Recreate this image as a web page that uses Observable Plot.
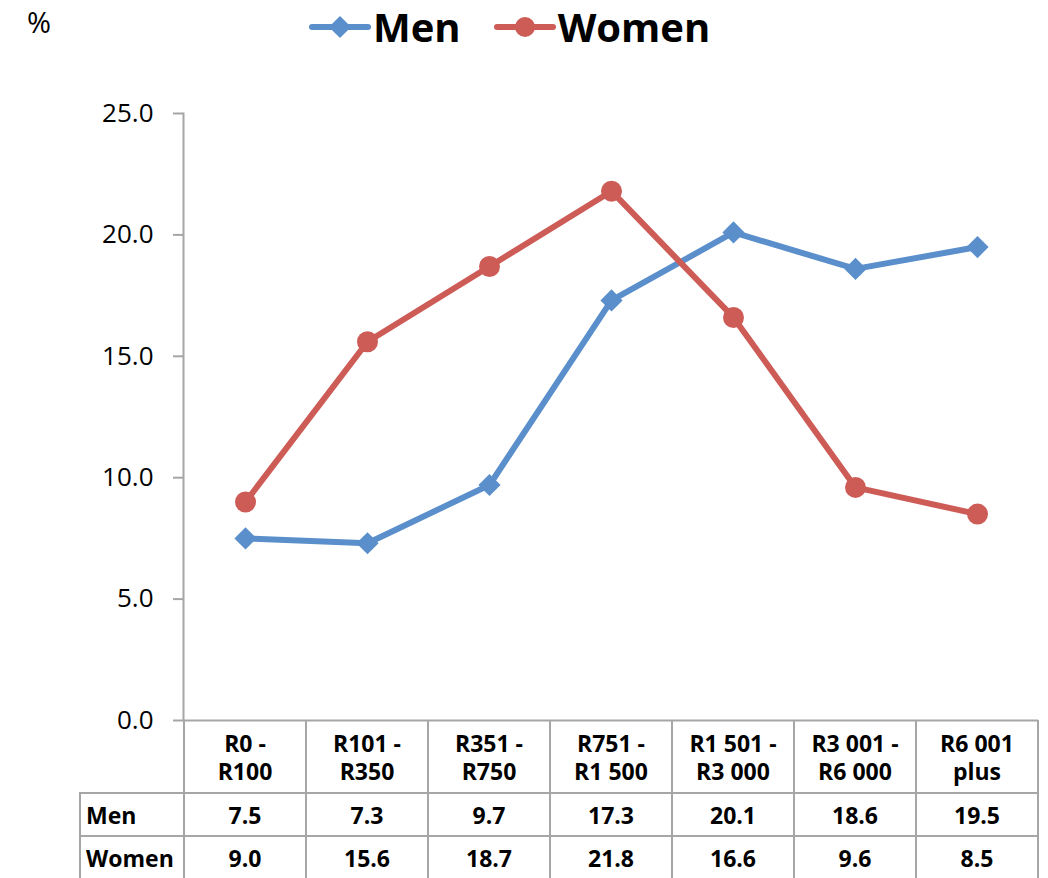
<!DOCTYPE html>
<html><head><meta charset="utf-8">
<script src="https://cdn.jsdelivr.net/npm/d3@7"></script>
<script src="https://cdn.jsdelivr.net/npm/@observablehq/plot@0.6"></script>
<style>
body{margin:0;background:#fff;font-family:"Open Sans",sans-serif;}
#wrap{position:relative;width:1048px;height:878px;overflow:hidden;background:#fff;}
.abs{position:absolute;}
.cell{position:absolute;display:flex;align-items:center;justify-content:center;text-align:center;font-weight:bold;font-size:23px;line-height:28px;color:#000;white-space:pre;}
.hl{position:absolute;height:2px;background:#a6a6a6;}
.vl{position:absolute;width:2px;background:#a6a6a6;}
</style></head><body><div id="wrap"></div>
<script>
// ---- data ----
const categories = ["R0 -\nR100", "R101 -\nR350", "R351 -\nR750", "R751 -\nR1 500", "R1 501 -\nR3 000", "R3 001 -\nR6 000", "R6 001\nplus"];
const seriesNames = ["Men", "Women"];
const menValues = [7.5, 7.3, 9.7, 17.3, 20.1, 18.6, 19.5];
const womenValues = [9.0, 15.6, 18.7, 21.8, 16.6, 9.6, 8.5];
const yTicks = [0, 5, 10, 15, 20, 25];
const yUnit = "%";

// ---- styles ----
const seriesColors = ["#5B8FCB", "#CD5C57"];
const seriesSymbols = ["diamond2", "circle"];
const gridGray = "#a6a6a6";

const valuesBySeries = [menValues, womenValues];
const data = [];
seriesNames.forEach((s, i) => categories.forEach((c, j) => data.push({series: s, category: c, value: valuesBySeries[i][j]})));

const wrap = document.getElementById("wrap");

// header: unit + legend
const unit = document.createElement("div");
unit.className = "abs";
unit.style.cssText = "left:27px;top:4px;font-size:29px;line-height:36px;font-family:'Open Sans';";
unit.textContent = yUnit;
wrap.appendChild(unit);

const legend = document.createElement("div");
legend.className = "abs";
legend.style.cssText = "left:309px;top:2px;height:50px;display:flex;align-items:center;";
seriesNames.forEach((s, i) => {
  const sw = d3.create("svg").attr("width", 62).attr("height", 30).style("margin-left", i ? "33px" : "0px");
  sw.append("line").attr("x1", 3).attr("x2", 59).attr("y1", 15).attr("y2", 15)
    .attr("stroke", seriesColors[i]).attr("stroke-width", 6).attr("stroke-linecap", "round");
  const sym = seriesSymbols[i] === "circle" ? d3.symbolCircle : d3.symbolDiamond2;
  sw.append("path").attr("transform", "translate(31,15)")
    .attr("d", d3.symbol(sym, Math.PI * 10 * 10)()).attr("fill", seriesColors[i]);
  legend.appendChild(sw.node());
  const t = document.createElement("span");
  t.textContent = s;
  t.style.cssText = "font-weight:bold;font-size:40px;font-family:'Open Sans';margin-left:2px;line-height:46px;";
  legend.appendChild(t);
});
wrap.appendChild(legend);

// plot
const plot = Plot.plot({
  width: 1048, height: 662,
  marginTop: 53, marginBottom: 2, marginLeft: 183, marginRight: 10,
  style: {fontFamily: "'Open Sans'", fontSize: "26px", color: "black", background: "white", overflow: "visible"},
  x: {type: "point", domain: categories, padding: 0.5, axis: null},
  y: {domain: [0, 25], axis: null},
  color: {domain: seriesNames, range: seriesColors},
  marks: [
    Plot.axisY({ticks: yTicks, tickFormat: d3.format(".1f"), tickSize: 10, tickPadding: 20, fontSize: 26, stroke: gridGray, strokeWidth: 2, fill: "black", label: null}),
    Plot.frame({anchor: "left", stroke: gridGray, strokeWidth: 2}),
    Plot.ruleY([0], {stroke: gridGray, strokeWidth: 2}),
    Plot.line(data, {x: "category", y: "value", z: "series", stroke: "series", strokeWidth: 6, strokeLinejoin: "round"}),
    Plot.dot(data.filter(d => d.series === "Men"), {x: "category", y: "value", symbol: "diamond2", r: 10, fill: "series"}),
    Plot.dot(data.filter(d => d.series === "Women"), {x: "category", y: "value", symbol: "circle", r: 10.5, fill: "series"})
  ]
});
plot.style.position = "absolute";
plot.style.left = "0px";
plot.style.top = "60px";
wrap.appendChild(plot);

// data table below the plot, aligned to the x scale
const xs = plot.scale("x");
const cx = c => xs.apply(c);
const step = cx(categories[1]) - cx(categories[0]);
const left0 = cx(categories[0]) - step / 2;
const right0 = cx(categories[categories.length - 1]) + step / 2;
const top0 = 720, headerBottom = 793, rowH = 43;
const labelLeft = 80;
function add(cls, css, text) {
  const d = document.createElement("div");
  d.className = cls; d.style.cssText = css;
  if (text !== undefined) d.textContent = text;
  wrap.appendChild(d);
}
// vertical lines
categories.forEach((c, j) => {
  add("vl", `left:${cx(c) - step / 2 - 1}px;top:${top0}px;height:${878 - top0 + 10}px;`);
});
add("vl", `left:${right0 - 1}px;top:${top0}px;height:${878 - top0 + 10}px;`);
add("vl", `left:${labelLeft - 1}px;top:${headerBottom}px;height:${878 - headerBottom + 10}px;`);
// horizontal lines
[headerBottom, headerBottom + rowH, headerBottom + 2 * rowH].forEach(y => {
  add("hl", `left:${labelLeft - 1}px;top:${y - 1}px;width:${right0 - labelLeft + 2}px;`);
});
// header labels
categories.forEach(c => {
  add("cell", `left:${cx(c) - step / 2}px;top:${top0}px;width:${step}px;height:${headerBottom - top0}px;`, c);
});
// rows
seriesNames.forEach((s, i) => {
  const y = headerBottom + i * rowH;
  add("cell", `left:${labelLeft + 6}px;top:${y}px;width:${left0 - labelLeft - 6}px;height:${rowH}px;justify-content:flex-start;`, s);
  categories.forEach((c, j) => {
    add("cell", `left:${cx(c) - step / 2}px;top:${y}px;width:${step}px;height:${rowH}px;`, d3.format(".1f")(valuesBySeries[i][j]));
  });
});
</script></body></html>
